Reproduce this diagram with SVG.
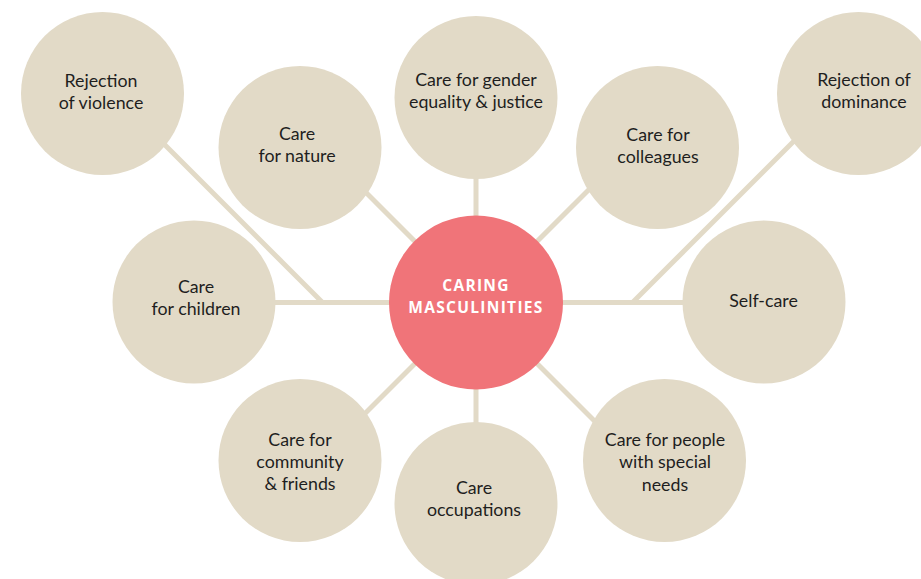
<svg xmlns="http://www.w3.org/2000/svg" width="921" height="579" viewBox="0 0 921 579">
  <style>
    .bubble { fill: #E2DAC7; }
    .hub { fill: #F07479; }
    .link { stroke: #E2DAC7; stroke-width: 5; fill: none; }
    .label { font-family: Lato, "Open Sans", sans-serif; font-size: 17.8px; fill: #1E1E1E; text-anchor: middle; }
    .hub-label { font-family: "Open Sans", Lato, sans-serif; font-size: 15.5px; font-weight: 700; fill: #FFFFFF; text-anchor: middle; letter-spacing: 1.3px; }
  </style>
  <rect width="921" height="579" fill="#FFFFFF"/>

  <!-- spokes from the hub, drawn beneath the bubbles -->
  <g id="connectors">
    <line class="link" x1="194" y1="302.5" x2="764" y2="302.5"/>
    <line class="link" x1="476" y1="302.5" x2="476" y2="150"/>
    <line class="link" x1="476" y1="302.5" x2="476" y2="450"/>
    <line class="link" x1="476" y1="302.5" x2="346" y2="172.5"/>
    <line class="link" x1="476" y1="302.5" x2="606" y2="172.5"/>
    <line class="link" x1="476" y1="302.5" x2="346" y2="432.5"/>
    <line class="link" x1="476" y1="302.5" x2="606" y2="432.5"/>
    <line class="link" x1="130" y1="110" x2="322.5" y2="302.5"/>
    <line class="link" x1="805" y1="130" x2="632.5" y2="302.5"/>
  </g>

  <g id="node-violence">
    <circle class="bubble" cx="102.5" cy="93.5" r="81.5"/>
    <text class="label" x="101" y="86.5">Rejection</text>
    <text class="label" x="101" y="108.5">of violence</text>
  </g>

  <g id="node-nature">
    <circle class="bubble" cx="300" cy="147.5" r="81.5"/>
    <text class="label" x="297" y="140">Care</text>
    <text class="label" x="297" y="162">for nature</text>
  </g>

  <g id="node-gender">
    <circle class="bubble" cx="476" cy="97.5" r="81.5"/>
    <text class="label" x="476" y="86">Care for gender</text>
    <text class="label" x="476" y="108">equality &amp; justice</text>
  </g>

  <g id="node-colleagues">
    <circle class="bubble" cx="657.5" cy="147.5" r="81.5"/>
    <text class="label" x="658" y="140.5">Care for</text>
    <text class="label" x="658" y="162.5">colleagues</text>
  </g>

  <g id="node-dominance">
    <circle class="bubble" cx="858.5" cy="93.5" r="81.5"/>
    <text class="label" x="864" y="86">Rejection of</text>
    <text class="label" x="864" y="107.5">dominance</text>
  </g>

  <g id="node-children">
    <circle class="bubble" cx="194" cy="302" r="81.5"/>
    <text class="label" x="196" y="292.5">Care</text>
    <text class="label" x="196" y="315">for children</text>
  </g>

  <g id="node-selfcare">
    <circle class="bubble" cx="764" cy="302" r="81.5"/>
    <text class="label" x="763.5" y="307">Self-care</text>
  </g>

  <g id="node-community">
    <circle class="bubble" cx="300" cy="460.5" r="81.5"/>
    <text class="label" x="300" y="445.5">Care for</text>
    <text class="label" x="300" y="467.5">community</text>
    <text class="label" x="300" y="490">&amp; friends</text>
  </g>

  <g id="node-occupations">
    <circle class="bubble" cx="476" cy="503.5" r="81.5"/>
    <text class="label" x="474" y="493.5">Care</text>
    <text class="label" x="474" y="515.5">occupations</text>
  </g>

  <g id="node-special-needs">
    <circle class="bubble" cx="664.5" cy="460.5" r="81.5"/>
    <text class="label" x="665" y="445.5">Care for people</text>
    <text class="label" x="665" y="468">with special</text>
    <text class="label" x="665" y="490.5">needs</text>
  </g>

  <g id="node-hub">
    <circle class="hub" cx="476" cy="302.5" r="87"/>
    <text class="hub-label" x="476" y="290.5">CARING</text>
    <text class="hub-label" x="476" y="312.5">MASCULINITIES</text>
  </g>
</svg>
